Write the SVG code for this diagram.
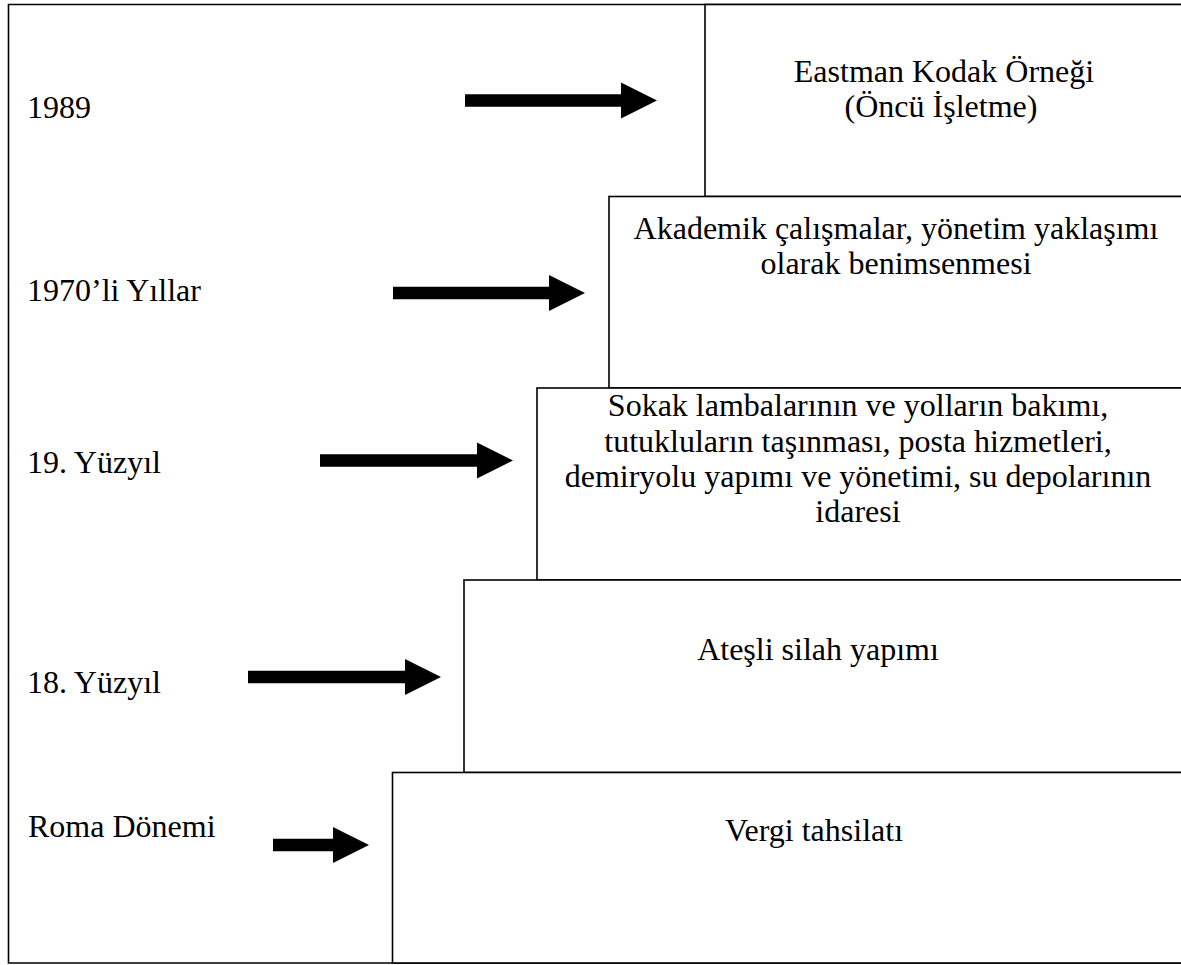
<svg xmlns="http://www.w3.org/2000/svg" width="1181" height="965" viewBox="0 0 1181 965">
  <style>
    .frame { fill: none; stroke: #000; stroke-width: 1.6; }
    .box { fill: #fff; stroke: #000; stroke-width: 1.6; }
    .arrow { stroke: #000; stroke-width: 12.5; fill: none; }
    text { font-family: "Liberation Serif", "Times New Roman", serif; font-size: 32px; fill: #000; }
    .c { text-anchor: middle; }
  </style>
  <defs>
    <marker id="head" markerUnits="userSpaceOnUse" markerWidth="36" markerHeight="36" refX="0" refY="18" orient="auto" overflow="visible">
      <path d="M0,0 L36,18 L0,36 Z" fill="#000"/>
    </marker>
  </defs>

  <rect width="1181" height="965" fill="#fff"/>

  <!-- outer frame (right side runs off the page) -->
  <path class="frame" d="M1190,4.5 H8.5 V963 H1190"/>

  <!-- stepped boxes, newest at the top -->
  <g id="box-1989">
    <rect class="box" x="705" y="4.5" width="490" height="192"/>
    <text class="c" x="944" y="82">Eastman Kodak Örneği</text>
    <text class="c" x="941" y="117">(Öncü İşletme)</text>
  </g>
  <g id="box-1970">
    <rect class="box" x="609" y="196.5" width="590" height="191.5"/>
    <text class="c" x="896" y="239">Akademik çalışmalar, yönetim yaklaşımı</text>
    <text class="c" x="896" y="274">olarak benimsenmesi</text>
  </g>
  <g id="box-19c">
    <rect class="box" x="537" y="388" width="660" height="192"/>
    <text class="c" x="858" y="416">Sokak lambalarının ve yolların bakımı,</text>
    <text class="c" x="858" y="452">tutukluların taşınması, posta hizmetleri,</text>
    <text class="c" x="858" y="487">demiryolu yapımı ve yönetimi, su depolarının</text>
    <text class="c" x="858" y="522">idaresi</text>
  </g>
  <g id="box-18c">
    <rect class="box" x="464" y="580" width="730" height="192.5"/>
    <text class="c" x="818" y="660">Ateşli silah yapımı</text>
  </g>
  <g id="box-roma">
    <rect class="box" x="392.5" y="772.5" width="800" height="190.5"/>
    <text class="c" x="814" y="841">Vergi tahsilatı</text>
  </g>

  <!-- period labels -->
  <g id="labels">
    <text x="27" y="118">1989</text>
    <text x="27" y="301">1970’li Yıllar</text>
    <text x="27" y="473">19. Yüzyıl</text>
    <text x="27" y="693">18. Yüzyıl</text>
    <text x="28" y="837">Roma Dönemi</text>
  </g>

  <!-- connectors -->
  <g id="connectors">
    <line class="arrow" x1="465" y1="100.5" x2="621" y2="100.5" marker-end="url(#head)"/>
    <line class="arrow" x1="393" y1="293" x2="549" y2="293" marker-end="url(#head)"/>
    <line class="arrow" x1="320" y1="460.5" x2="477" y2="460.5" marker-end="url(#head)"/>
    <line class="arrow" x1="248" y1="677" x2="405" y2="677" marker-end="url(#head)"/>
    <line class="arrow" x1="273" y1="845" x2="333" y2="845" marker-end="url(#head)"/>
  </g>
</svg>
